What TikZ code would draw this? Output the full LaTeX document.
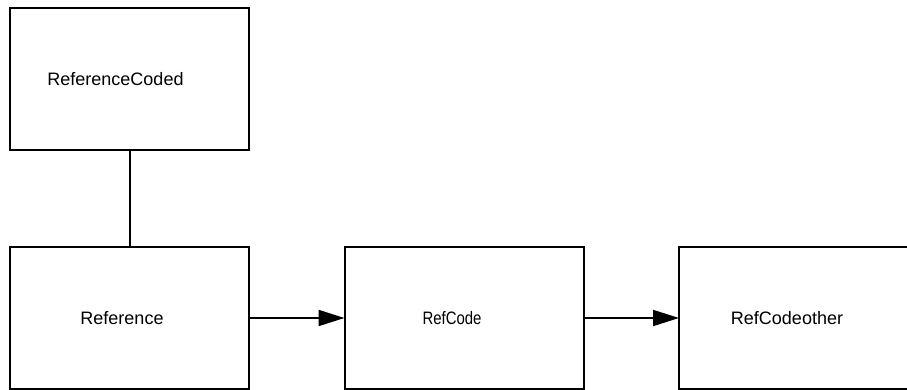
\documentclass[tikz,border=0pt]{standalone}
\usepackage{fontspec}
\setmainfont{Liberation Sans}
\newfontfamily\narrowfont[FakeStretch=0.83]{Liberation Sans}
\usetikzlibrary{arrows.meta}
\tikzset{
  box/.style={draw=black, line width=2pt, fill=white, rectangle, inner sep=0pt, outer sep=0pt,
    minimum width=239pt, minimum height=142pt},
  lbl/.style={font=\fontsize{18}{21}\selectfont},
  narrowlbl/.style={font=\narrowfont\fontsize{18}{21}\selectfont},
  link/.style={draw=black, line width=2pt},
  flow/.style={link, -{Triangle[length=26pt,width=16pt]}}
}
\begin{document}
\begin{tikzpicture}[x=1pt,y=-1pt]
\useasboundingbox (0,0) rectangle (907,390);
\clip (0,0) rectangle (907,390);
\fill[white] (0,0) rectangle (907,390);
\node[box, label={[lbl, xshift=-14pt]center:ReferenceCoded}] (rc) at (129.5,79) {};
\node[box, label={[lbl, xshift=-7.5pt]center:Reference}] (ref) at (129.5,318) {};
\node[box, label={[narrowlbl, xshift=-12pt]center:RefCode}] (code) at (464,318) {};
\node[box, label={[lbl, xshift=-11.5pt]center:RefCodeother}] (other) at (798.5,318) {};
\draw[link] (rc.south) -- (ref.north);
\draw[flow] (ref.east) -- (code.west);
\draw[flow] (code.east) -- (other.west);
\end{tikzpicture}
\end{document}
